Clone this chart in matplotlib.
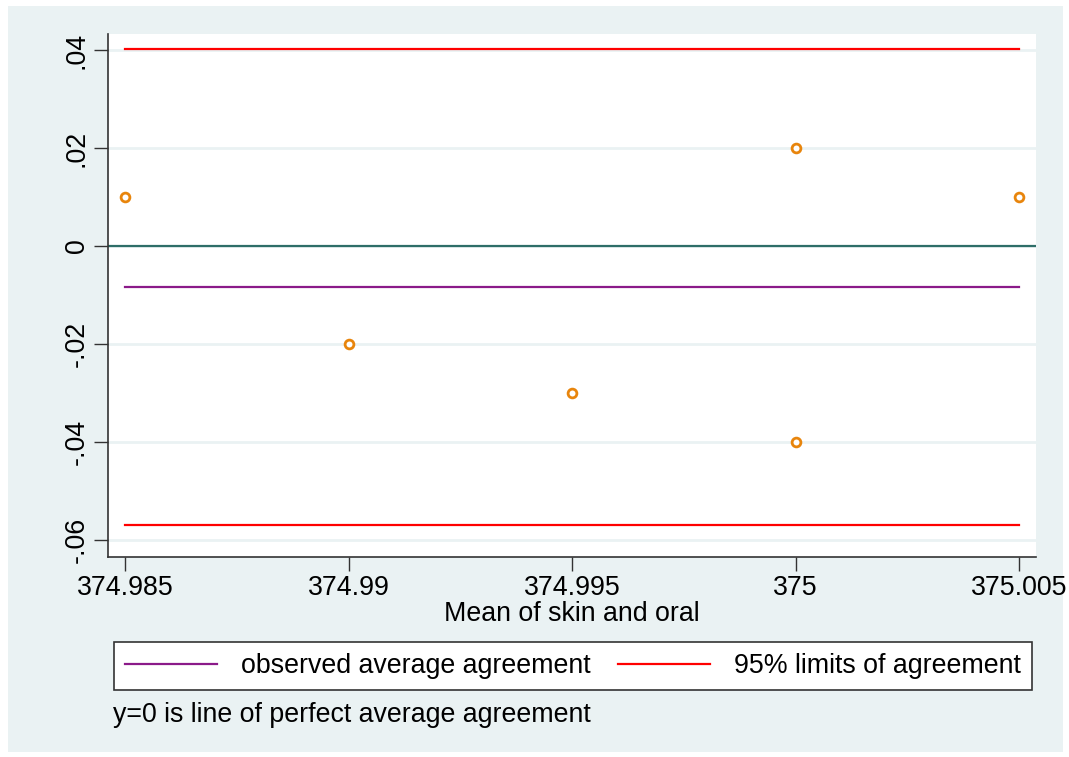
import numpy as np
import matplotlib.pyplot as plt
from matplotlib.patches import Rectangle

plt.rcParams['font.family'] = ['Liberation Sans', 'DejaVu Sans']

# Bland-Altman data: mean of the two readings vs difference
mean_vals = [374.985, 374.99, 374.995, 375.0, 375.0, 375.005]
diff_vals = [0.01, -0.02, -0.03, 0.02, -0.04, 0.01]
avg_agree = -0.0083
limits = [0.0403, -0.0570]
x_ticks = [374.985, 374.99, 374.995, 375.0, 375.005]
x_labels = ['374.985', '374.99', '374.995', '375', '375.005']
y_ticks = [-0.06, -0.04, -0.02, 0.0, 0.02, 0.04]
y_labels = ['-.06', '-.04', '-.02', '0', '.02', '.04']

W, H = 1069, 757
FS = 19.3
fig = plt.figure(figsize=(W / 100, H / 100), dpi=100, facecolor='white')
fig.patches.append(Rectangle((8 / W, 5 / H), 1055 / W, 746 / H, transform=fig.transFigure,
                             facecolor='#eaf2f3', edgecolor='none', zorder=-5))

ax = fig.add_axes([108 / W, 1 - 557 / H, 928 / W, 523 / H])
ax.set_facecolor('white')

xlo, xhi = min(x_ticks), max(x_ticks)
pad = 17 / 223.5 * 0.005
ax.set_xlim(xlo - pad, xhi + pad)
ax.set_ylim(-0.0635, 0.0433)

for yv in y_ticks:
    ax.axhline(yv, color='#eaf2f3', lw=2, zorder=1)

ax.axhline(0, color='#2e6e68', lw=1.6, zorder=2)
ax.plot([xlo, xhi], [avg_agree, avg_agree], color='#8b1a89', lw=1.6, zorder=3,
        label='observed average agreement')
ax.plot([xlo, xhi], [limits[0], limits[0]], color='#ff0000', lw=1.6, zorder=3,
        label='95% limits of agreement')
ax.plot([xlo, xhi], [limits[1], limits[1]], color='#ff0000', lw=1.6, zorder=3)
ax.scatter(mean_vals, diff_vals, s=40, facecolors='white', edgecolors='#e8850c',
           linewidths=2, zorder=4)

ax.set_xticks(x_ticks)
ax.set_xticklabels(x_labels)
ax.set_yticks(y_ticks)
ax.set_yticklabels(y_labels, rotation=90, va='center')
ax.tick_params(axis='both', labelsize=FS, length=10, width=1, color='#333333', pad=3)
for s in ['top', 'right']:
    ax.spines[s].set_visible(False)
for s in ['left', 'bottom']:
    ax.spines[s].set_color('#333333')
    ax.spines[s].set_linewidth(1.2)
ax.set_xlabel('Mean of skin and oral', fontsize=FS, labelpad=0)

leg = fig.legend(loc='center', bbox_to_anchor=(573 / W, 1 - 666 / H), ncol=2,
                 fontsize=FS, frameon=True, fancybox=False, handlelength=3.45,
                 handletextpad=0.9, columnspacing=1.0, borderpad=0.4,
                 borderaxespad=0)
leg.get_frame().set_edgecolor('#333333')
leg.get_frame().set_facecolor('white')
leg.get_frame().set_alpha(1)
leg.get_frame().set_linewidth(1.2)

fig.text(113 / W, 1 - 715 / H, 'y=0 is line of perfect average agreement',
         fontsize=FS, va='center', ha='left')

fig.savefig('out.png', dpi=100, facecolor='white')
